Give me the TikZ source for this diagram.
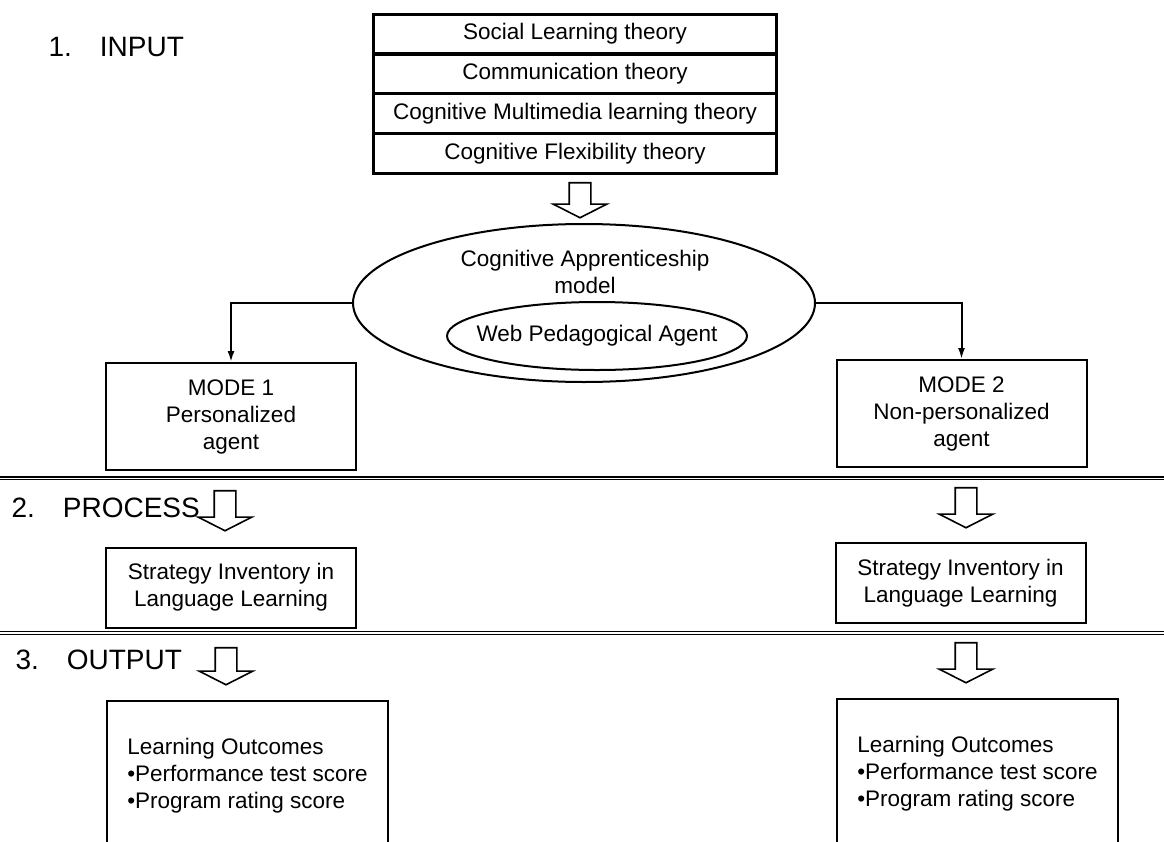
\documentclass[tikz,border=0pt]{standalone}
\usepackage{fontspec}
\setmainfont{Liberation Sans}
\usetikzlibrary{shapes.geometric}
\usetikzlibrary{shapes.arrows}
\usetikzlibrary{arrows.meta}
\tikzset{box/.style={rectangle, draw, line width=2pt, align=center, inner sep=0pt,
   font=\fontsize{22.5}{27}\selectfont}}
\tikzset{theory/.style={box, line width=1.6pt, minimum width=402pt, minimum height=38.25pt}}
\tikzset{modebox/.style={box, minimum width=250pt, minimum height=107pt}}
\tikzset{sillbox/.style={box, minimum width=250pt, minimum height=80pt}}
\tikzset{outbox/.style={box, align=left, minimum width=281pt, minimum height=150pt, anchor=north west}}
\tikzset{oval/.style={ellipse, draw, line width=2pt, inner sep=0pt}}
\tikzset{ovaltext/.style={align=center, inner sep=0pt, font=\fontsize{22.5}{27}\selectfont}}
\tikzset{stage/.style={anchor=west, font=\fontsize{28}{34}\selectfont}}
\tikzset{blockarrow/.style={single arrow, draw, line width=1.6pt, rotate=-90, inner sep=10pt,
   minimum width=52pt, single arrow head extend=16pt, single arrow tip angle=126}}
\tikzset{conn/.style={line width=2pt, -{Latex[length=11pt,width=7pt]}}}

\begin{document}
\begin{tikzpicture}[x=1pt, y=-1pt]

    \useasboundingbox (0,0) rectangle (1164,841);
    \fill[white] (0,0) rectangle (1164,841);
    \clip (0,0) rectangle (1164,841);

    % stages
    \node[stage] (input)   at (45,47)  {1.\quad INPUT};
    \node[stage] (process) at (8,508)  {2.\quad PROCESS};
    \node[stage] (output)  at (12,660) {3.\quad OUTPUT};

    % theories
    \node[theory] (t1) at (575,34.1) {Social Learning theory};
    \node[theory, anchor=north] (t2) at (t1.south) {Communication theory};
    \node[theory, anchor=north] (t3) at (t2.south) {Cognitive Multimedia learning theory};
    \node[theory, anchor=north] (t4) at (t3.south) {Cognitive Flexibility theory};
    \draw[line width=2pt] (t1.north west) rectangle (t4.south east);

    \node[blockarrow, minimum height=35pt] (a1) at (580,197.5) {};

    % model
    \node[oval, minimum width=462pt, minimum height=158pt] (cam) at (584,303) {};
    \node[ovaltext] (camtext) at (585,272) {Cognitive Apprenticeship\\model};
    \node[oval, minimum width=300pt, minimum height=68pt] (wpa) at (597,336) {};
    \node[ovaltext] (wpatext) at (wpa.center) {Web Pedagogical Agent};

    \node[modebox] (mode1) at (231,416.5) {MODE 1\\Personalized\\agent};
    \node[modebox] (mode2) at (961.5,413.5) {MODE 2\\Non-personalized\\agent};

    \draw[conn] (cam.west) -| (mode1.north);
    \draw[conn] (cam.east) -| (mode2.north);

    % process
    \draw[line width=2pt, double, double distance=0.8pt] (0,478) -- (1164,478);

    \node[blockarrow, minimum height=40pt] (a2) at (225,508) {};
    \node[blockarrow, minimum height=40pt] (a3) at (966,505) {};

    \node[sillbox] (sill1) at (231,587.5) {Strategy Inventory in\\Language Learning};
    \node[sillbox] (sill2) at (960.5,583) {Strategy Inventory in\\Language Learning};

    % output
    \draw[line width=1.2pt, double, double distance=2.5pt] (0,633) -- (1164,633);

    \node[blockarrow, minimum height=37pt] (a4) at (226,663.5) {};
    \node[blockarrow, minimum height=40pt] (a5) at (966,660) {};

    \node[outbox] (lo1) at (106,700)
      {Learning Outcomes\\•Performance test score\\•Program rating score};
    \node[outbox] (lo2) at (836,698)
      {Learning Outcomes\\•Performance test score\\•Program rating score};

  \end{tikzpicture}
\end{document}
